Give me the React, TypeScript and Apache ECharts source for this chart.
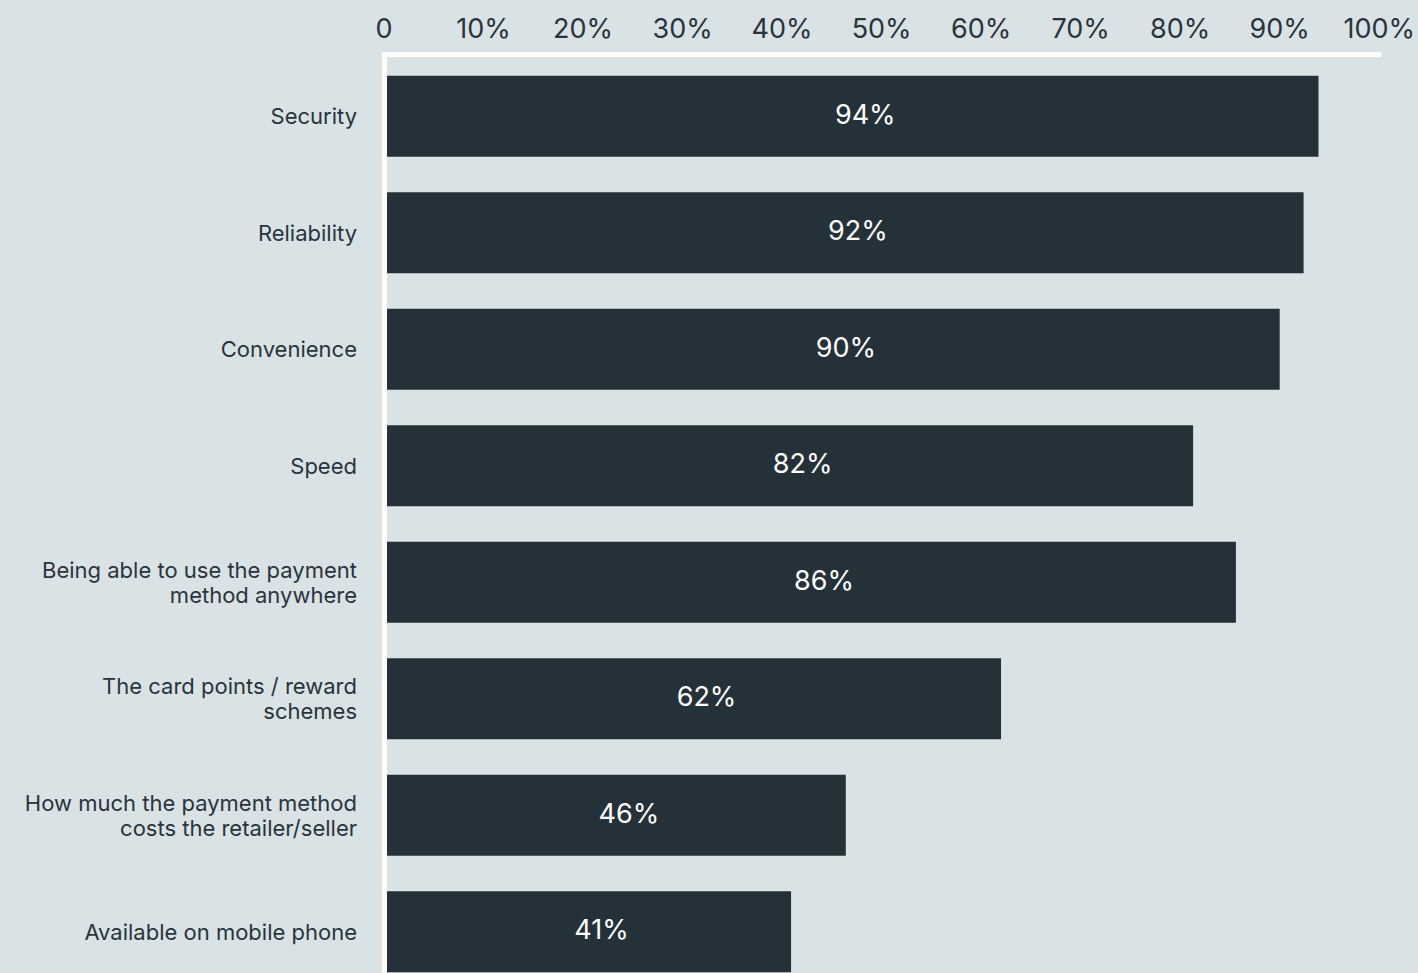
import React, { useEffect, useRef } from "react";
import * as echarts from "echarts";

const categories = [
  "Security",
  "Reliability",
  "Convenience",
  "Speed",
  "Being able to use the payment\nmethod anywhere",
  "The card points / reward\nschemes",
  "How much the payment method\ncosts the retailer/seller",
  "Available on mobile phone",
];
// bar lengths (percent)
const values = [93.9, 92.4, 90.0, 81.3, 85.6, 62.0, 46.4, 40.9];
// labels printed on the bars
const valueLabels = ["94%", "92%", "90%", "82%", "86%", "62%", "46%", "41%"];
const xTicks = [0, 10, 20, 30, 40, 50, 60, 70, 80, 90, 100];

const FONT = "Inter, 'Noto Sans', sans-serif";
const TEXT = "#29343b";
const BAR = "#253139";
const BG = "#d9e2e5";

export default function App() {
  const ref = useRef<HTMLDivElement>(null);
  useEffect(() => {
    if (!ref.current) return;
    const chart = echarts.init(ref.current, undefined, { renderer: "svg" });
    chart.setOption({
      animation: false,
      backgroundColor: BG,
      grid: { left: 384, top: 58, width: 1000, height: 932 },
      xAxis: {
        type: "value",
        position: "top",
        min: xTicks[0],
        max: xTicks[xTicks.length - 1],
        interval: 10,
        offset: 4,
        axisLine: { show: true, lineStyle: { color: "#ffffff", width: 5 } },
        axisTick: { show: false },
        splitLine: { show: false },
        axisLabel: {
          color: TEXT,
          fontFamily: FONT,
          fontSize: 27,
          margin: 12,
          formatter: (v: number) => (v === 0 ? "0" : v + "%"),
        },
      },
      yAxis: {
        type: "category",
        inverse: true,
        data: categories,
        z: 3,
        axisLine: { show: true, lineStyle: { color: "#ffffff", width: 5 } },
        axisTick: { show: false },
        axisLabel: {
          color: TEXT,
          fontFamily: FONT,
          fontSize: 22,
          lineHeight: 25,
          margin: 27,
          align: "right",
        },
      },
      series: [
        {
          type: "bar",
          data: values,
          barWidth: 81,
          itemStyle: { color: BAR },
          label: {
            show: true,
            position: "inside",
            offset: [14, -2],
            color: "#ffffff",
            fontFamily: FONT,
            fontSize: 27,
            formatter: (p: any) => valueLabels[p.dataIndex],
          },
        },
      ],
    });
    return () => chart.dispose();
  }, []);
  return (
    <div
      style={{
        position: "absolute",
        left: 0,
        top: 0,
        width: 1418,
        height: 973,
        overflow: "hidden",
        background: BG,
      }}
    >
      <div ref={ref} style={{ width: 1418, height: 1000 }} />
    </div>
  );
}
